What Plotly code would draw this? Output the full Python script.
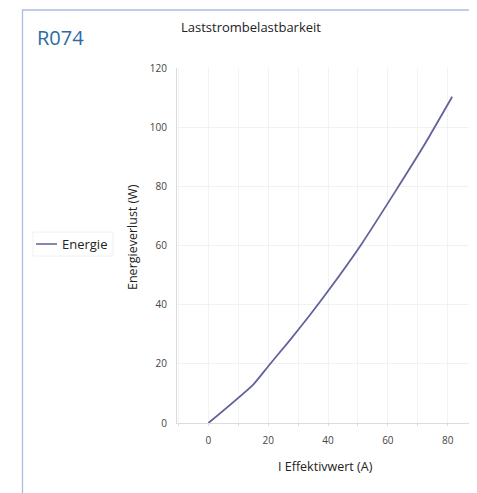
import plotly.graph_objects as go

# Data
current_a = [0, 15, 20, 27, 34, 40, 51, 62.5, 72, 81.5]
energy_w = [0, 13, 19.2, 27.7, 36.6, 44.6, 60.2, 78.3, 93.7, 110.3]
x_ticks = [0, 20, 40, 60, 80]
y_ticks = [0, 20, 40, 60, 80, 100, 120]
series_name = "Energie"

# the page body has an 8px default margin; size the figure so it fills the window
OFF = 8
W, H = 477 - OFF, 493 - OFF
PLOT_LEFT, PLOT_RIGHT, PLOT_TOP, PLOT_BOTTOM = 177, 477, 68, 423  # in window pixels
L = PLOT_LEFT - OFF
R = 0
T = PLOT_TOP - OFF
B = H - (PLOT_BOTTOM - OFF)
pw, ph = W - L - R, H - T - B

def px(x):  # window pixel x -> paper
    return (x - PLOT_LEFT) / pw

def py(y):  # window pixel y -> paper
    return (PLOT_BOTTOM - y) / ph

FONT = "Open Sans"
LINE_COLOR = "#62629c"
FRAME = "#a9bde0"

fig = go.Figure()
fig.add_trace(go.Scatter(x=current_a, y=energy_w, mode="lines", name=series_name,
                         line=dict(color=LINE_COLOR, width=1.8, shape="spline", smoothing=0.5),
                         showlegend=False))

fig.update_layout(
    width=W, height=H,
    margin=dict(l=L, r=R, t=T, b=B),
    paper_bgcolor="white", plot_bgcolor="white",
    font=dict(family=FONT, color="#222"),
    title=dict(text="Laststrombelastbarkeit", xref="paper", x=px(251), xanchor="center",
               yref="container", y=1 - (27 - OFF) / H, yanchor="middle",
               font=dict(family=FONT, size=13, color="#222")),
    xaxis=dict(range=[-10.5, 89.8], tickvals=x_ticks, showgrid=True, gridcolor="#f3f3f3",
               zeroline=False, showline=True, linecolor="#dcdcdc", linewidth=1,
               ticks="", ticklabelstandoff=8,
               tickfont=dict(family=FONT, size=10, color="#444"),
               minor=dict(dtick=10, tick0=0, showgrid=True, gridcolor="#f3f3f3",
                          ticks="outside", ticklen=2, tickcolor="#dcdcdc")),
    yaxis=dict(range=[0, 120], tickvals=y_ticks, showgrid=True, gridcolor="#f1f1f1",
               zeroline=False, showline=True, linecolor="#dcdcdc", linewidth=1,
               ticks="", ticklabelstandoff=7,
               tickfont=dict(family=FONT, size=10, color="#444")),
)

# frame lines (light blue border)
fig.add_shape(type="line", xref="paper", yref="paper", x0=px(22.5), x1=px(22.5),
              y0=py(10), y1=py(500), line=dict(color=FRAME, width=1.3))
fig.add_shape(type="line", xref="paper", yref="paper", x0=px(22), x1=px(490),
              y0=py(10), y1=py(10), line=dict(color=FRAME, width=1.3))

# R074 label
fig.add_annotation(text="R074", xref="paper", yref="paper", x=px(35), y=py(37.5),
                   xanchor="left", yanchor="middle", showarrow=False,
                   font=dict(family=FONT, size=20, color="#2d6aa6"))

# axis titles
fig.add_annotation(text="I Effektivwert (A)", xref="paper", yref="paper",
                   x=px(325), y=py(466), xanchor="center", yanchor="middle",
                   showarrow=False, font=dict(family=FONT, size=12.5, color="#222"))
fig.add_annotation(text="Energieverlust (W)", xref="paper", yref="paper",
                   x=px(132), y=py(237), xanchor="center", yanchor="middle",
                   textangle=-90, showarrow=False,
                   font=dict(family=FONT, size=12.5, color="#222"))

# legend (drawn manually to match the short sample line)
fig.add_shape(type="rect", xref="paper", yref="paper", x0=px(33), x1=px(113),
              y0=py(256), y1=py(232), line=dict(color="#f0f0f0", width=1))
fig.add_shape(type="line", xref="paper", yref="paper", x0=px(36), x1=px(57),
              y0=py(244), y1=py(244), line=dict(color="#7a7aa8", width=1.8))
fig.add_annotation(text=series_name, xref="paper", yref="paper", x=px(60), y=py(244),
                   xanchor="left", yanchor="middle", showarrow=False,
                   font=dict(family=FONT, size=13, color="#222"))

fig.write_html("out.html", config={"displayModeBar": False})
